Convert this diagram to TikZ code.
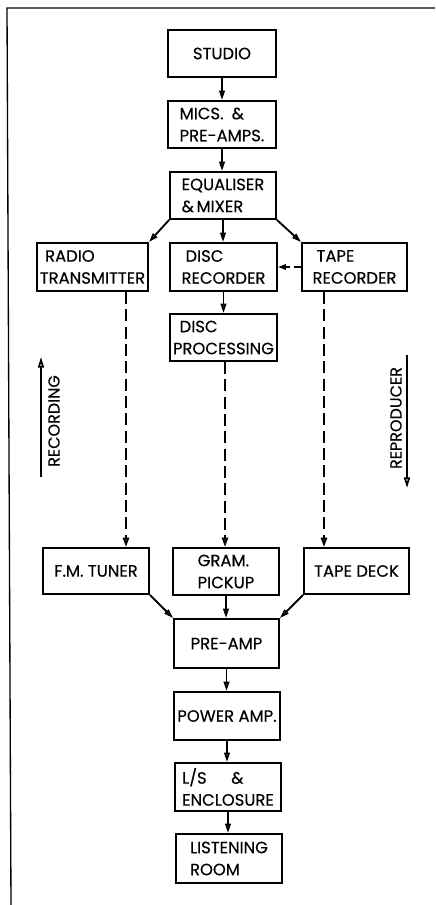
\documentclass[tikz,border=0pt]{standalone}
\usepackage{fontspec}
\setmainfont{Poppins}[FakeBold=0.3]
\usetikzlibrary{arrows.meta}
\begin{document}
\begin{tikzpicture}[x=0.75pt,y=-0.75pt,
  box/.style={draw,line width=1.4pt,inner sep=0pt,align=left,
    font=\fontsize{12.3}{16.5}\selectfont},
  conn/.style={line width=1.4pt,-{Triangle[open,length=7pt,width=4.2pt]}},
  dconn/.style={line width=1.5pt,dash pattern=on 9pt off 4pt,-{Triangle[open,length=7pt,width=4.6pt]}},
  fconn/.style={line width=1.4pt,dash pattern=on 5pt off 3pt,-{Triangle[length=6pt,width=4pt]}},
  side/.style={font=\fontsize{12}{13}\selectfont,rotate=90},
  frame/.style={line width=1pt}]
\useasboundingbox (0,0) rectangle (435,905);
% frame
\coordinate (f1) at (7,8);
\coordinate (f2) at (435,8);
\coordinate (f3) at (11,905);
\draw[frame] (f2) -- (f1) -- (f3);
% boxes
\node[box,minimum width=81pt,minimum height=35.25pt] (studio) at (222,53.5) {STUDIO};
\node[box,minimum width=81pt,minimum height=35.25pt] (mics) at (222,124.5) {MICS.\enspace\&\\PRE-AMPS.};
\node[box,minimum width=79.5pt,minimum height=35.25pt] (eq) at (223,195.5) {EQUALISER\\\&\,MIXER};
\node[box,minimum width=83.25pt,minimum height=36pt] (radio) at (92.5,267) {\hspace*{4pt}RADIO\\TRANSMITTER};
\node[box,minimum width=80.25pt,minimum height=36pt] (disc) at (223.5,267) {\hspace*{3pt}DISC\\RECORDER};
\node[box,minimum width=78.75pt,minimum height=36pt] (tape) at (354.5,267) {\hspace*{3pt}TAPE\\RECORDER};
\node[box,minimum width=80.25pt,minimum height=35.25pt] (proc) at (223.5,337.5) {\hspace*{5pt}DISC\\PROCESSING};
\node[box,minimum width=79.5pt,minimum height=34.5pt] (fm) at (96,571) {F.M. TUNER};
\node[box,minimum width=79.5pt,minimum height=35.25pt] (gram) at (226,571.5) {GRAM.\\PICKUP};
\node[box,minimum width=78.75pt,minimum height=34.5pt] (deck) at (356.5,571) {TAPE DECK};
\node[box,minimum width=78.75pt,minimum height=36.75pt] (pre) at (226.5,643.5) {PRE-AMP};
\node[box,minimum width=79.5pt,minimum height=36pt] (power) at (227,716) {POWER AMP.};
\node[box,minimum width=79.5pt,minimum height=36pt] (ls) at (228,787) {L/S\enspace\quad\&\\ENCLOSURE};
\node[box,minimum width=79.5pt,minimum height=36.75pt] (listen) at (229,858.5) {LISTENING\\ROOM};
% solid connectors
\draw[conn] (studio.south) -- (studio.south |- mics.north);
\draw[conn] (mics.south) -- (mics.south |- eq.north);
\draw[conn] (eq.south) -- (eq.south |- disc.north);
\draw[conn] (eq.south west) -- (radio.north east);
\draw[conn] (eq.south east) -- (tape.north west);
\draw[conn] (disc.south) -- (disc.south |- proc.north);
\draw[conn] (fm.south east) -- (pre.north west);
\draw[conn] (gram.south) -- (gram.south |- pre.north);
\draw[conn] (deck.south west) -- (pre.north east);
\draw[conn] (pre.south) -- (pre.south |- power.north);
\draw[conn] (power.south) -- (power.south |- ls.north);
\draw[conn] (ls.south) -- (ls.south |- listen.north);
\draw[fconn] (tape.west) -- (disc.east);
% dashed connectors
\coordinate (rx) at (126,0);
\coordinate (dx) at (225,0);
\coordinate (tx) at (324,0);
\draw[dconn] (radio.south -| rx) -- (fm.north -| rx);
\draw[dconn] (proc.south -| dx) -- (gram.north -| dx);
\draw[dconn] (tape.south -| tx) -- (deck.north -| tx);
% side arrows
\coordinate (recA) at (41,477);
\coordinate (recB) at (41,357);
\draw[line width=1.3pt,-{Triangle[open,length=8pt,width=4.5pt]}] (recA) -- (recB);
\node[side] (rec) at (54,421) {RECORDING};
\coordinate (repA) at (407,355);
\coordinate (repB) at (407,488);
\draw[line width=1.3pt,-{Triangle[open,length=8pt,width=4.5pt]}] (repA) -- (repB);
\node[side] (rep) at (396,418) {REPRODUCER};
\end{tikzpicture}
\end{document}
